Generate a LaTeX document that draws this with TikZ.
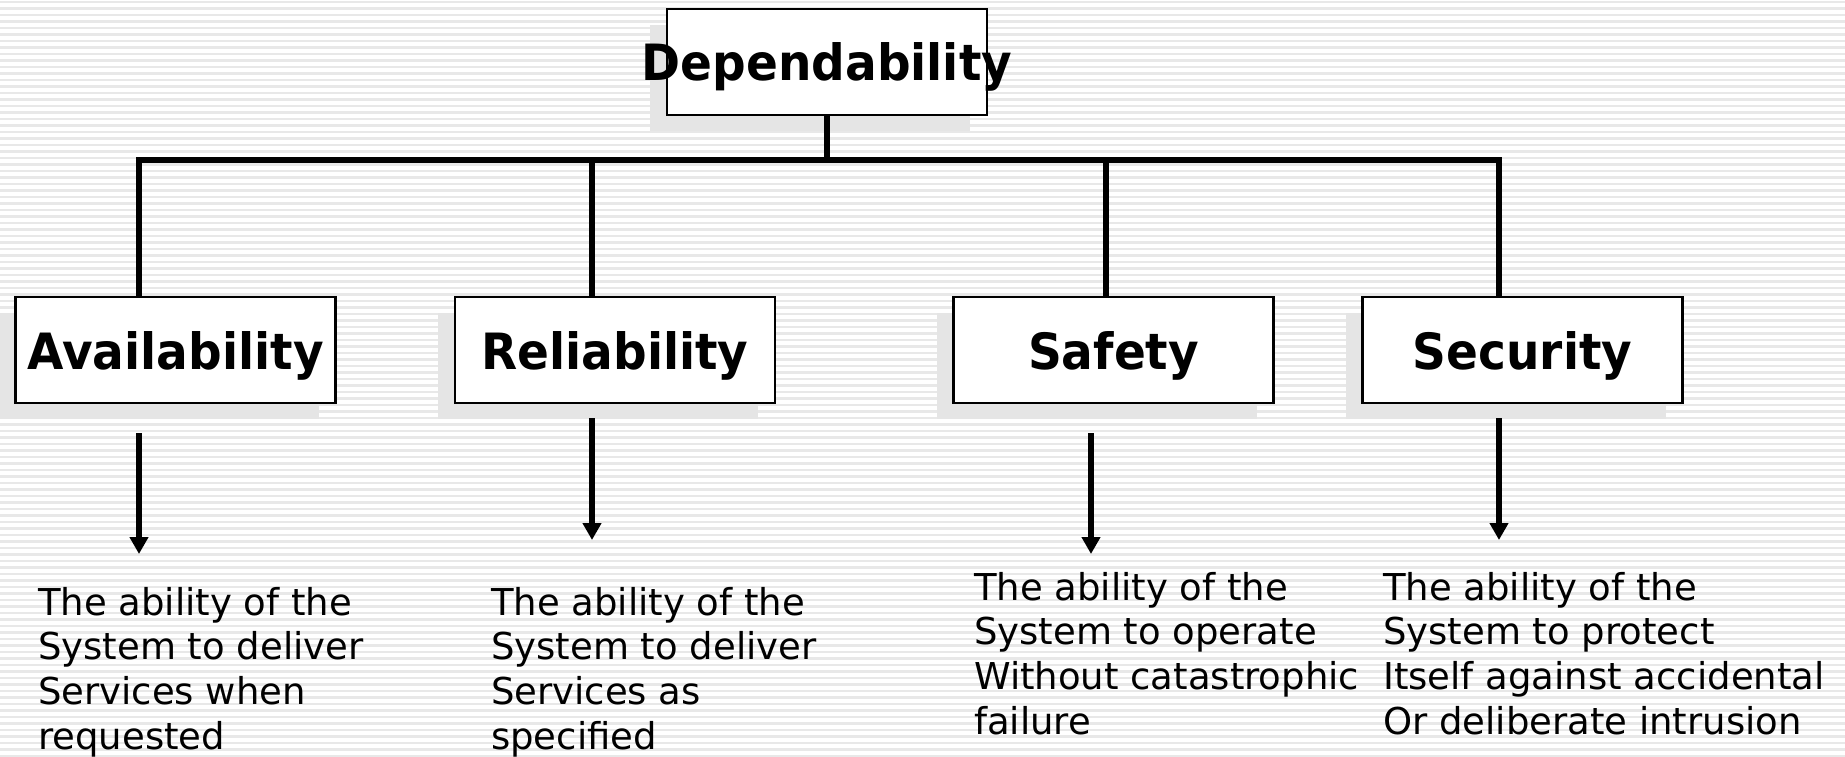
\documentclass[tikz,border=0pt]{standalone}
\usepackage{fontspec}
\setmainfont{DejaVu Sans}
\newfontfamily\headfont{DejaVu Sans}[FakeStretch=0.94]
\usetikzlibrary{arrows.meta,shadows}
\tikzset{
  stripe/.style={draw=gray!18, line width=2.2pt},
  topbox/.style={draw=black, fill=white, line width=2.4pt, minimum width=320pt, minimum height=106pt,
    inner sep=0pt, text depth=0pt, font=\headfont\bfseries\fontsize{50}{56}\selectfont,
    general shadow={fill=gray!20, shadow xshift=-17pt, shadow yshift=-16pt}},
  conn/.style={line width=5.5pt},
  arr/.style={line width=6pt, -{Triangle[length=17pt,width=18pt]}},
  desc/.style={anchor=north west, align=left, inner sep=0pt, font=\fontsize{37}{44.6}\selectfont}
}
\begin{document}
\begin{tikzpicture}[x=1pt,y=-1pt]
\useasboundingbox (0,0) rectangle (1845,756);
\fill[white] (0,0) rectangle (1845,756);
\foreach \i in {0,...,116} \draw[stripe] (0,\i*6.5+2) -- (1845,\i*6.5+2);

% boxes
\node[topbox] (dep) at (827,62) {\makebox[0pt]{Dependability}};
\node[topbox] (avail) at (175.5,350) {Availability};
\node[topbox] (rel) at (615,350) {Reliability};
\node[topbox] (saf) at (1113.5,350) {Safety};
\node[topbox] (sec) at (1522.5,350) {Security};

% tree connectors
\coordinate (b1) at (139,160);
\coordinate (b2) at (592,160);
\coordinate (b3) at (1106,160);
\coordinate (b4) at (1499,160);
\draw[conn, line cap=rect] (b1) -- (b4);
\draw[conn] (dep.south) -- (dep.south |- b1);
\draw[conn] (b1) -- (b1 |- avail.north);
\draw[conn] (b2) -- (b2 |- rel.north);
\draw[conn] (b3) -- (b3 |- saf.north);
\draw[conn] (b4) -- (b4 |- sec.north);

% arrows
\coordinate (a1s) at (139,433); \coordinate (a1e) at (139,554);
\coordinate (a2s) at (592,418); \coordinate (a2e) at (592,540);
\coordinate (a3s) at (1091,433); \coordinate (a3e) at (1091,554);
\coordinate (a4s) at (1499,418); \coordinate (a4e) at (1499,540);
\draw[arr] (a1s) -- (a1e);
\draw[arr] (a2s) -- (a2e);
\draw[arr] (a3s) -- (a3e);
\draw[arr] (a4s) -- (a4e);

% descriptions
\node[desc] (d1) at (38,587) {The ability of the\\System to deliver\\Services when\\requested};
\node[desc] (d2) at (491,587) {The ability of the\\System to deliver\\Services as\\specified};
\node[desc] (d3) at (974,572) {The ability of the\\System to operate\\Without catastrophic\\failure};
\node[desc] (d4) at (1383,572) {The ability of the\\System to protect\\Itself against accidental\\Or deliberate intrusion};
\end{tikzpicture}
\end{document}
